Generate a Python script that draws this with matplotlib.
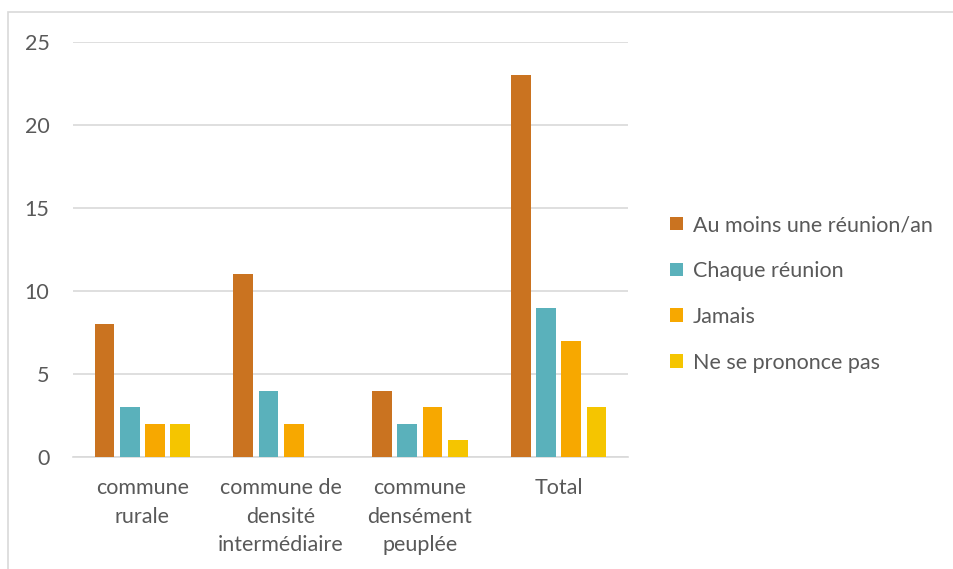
import matplotlib.pyplot as plt
import numpy as np
from matplotlib.patches import Rectangle

categories = ["commune\nrurale", "commune de\ndensité\nintermédiaire",
              "commune\ndensément\npeuplée", "Total"]
series_names = ["Au moins une réunion/an", "Chaque réunion", "Jamais", "Ne se prononce pas"]
au_moins = [8, 11, 4, 23]
chaque = [3, 4, 2, 9]
jamais = [2, 2, 3, 7]
ne_se_prononce = [2, 0, 1, 3]
colors = ["#CA7320", "#5AB1BB", "#F7A800", "#F5C500"]
y_ticks = [0, 5, 10, 15, 20, 25]

plt.rcParams['font.family'] = ['Lato', 'DejaVu Sans']
text_color = "#595959"
grid_color = "#D9D9D9"
fs = 15.5

fig = plt.figure(figsize=(9.54, 5.69), dpi=100)
ax = fig.add_axes([73 / 954, 1 - 457 / 569, 555 / 954, 415 / 569])

x = np.arange(len(categories))
step = 0.182
width = 0.144
series = [au_moins, chaque, jamais, ne_se_prononce]
for i, vals in enumerate(series):
    ax.bar(x + (i - 1.5) * step, vals, width, color=colors[i], label=series_names[i], zorder=3)

ax.set_xlim(-0.5, len(categories) - 0.5)
ax.set_ylim(0, 25)
ax.set_yticks(y_ticks)
ax.set_xticks(x)
ax.set_xticklabels(categories, linespacing=1.55)
ax.tick_params(axis='both', length=0, colors=text_color, labelsize=fs)
ax.tick_params(axis='y', pad=17)
ax.tick_params(axis='x', pad=15)
ax.grid(axis='y', color=grid_color, linewidth=1.2, zorder=0)
for s in ["top", "right", "left"]:
    ax.spines[s].set_visible(False)
ax.spines["bottom"].set_color(grid_color)
ax.spines["bottom"].set_linewidth(1.2)

leg = fig.legend(loc="center left", bbox_to_anchor=(651 / 954, 1 - 294 / 569),
                 frameon=False, fontsize=fs, handlelength=0.6, handleheight=0.6,
                 handletextpad=0.45, labelspacing=1.2)
for t in leg.get_texts():
    t.set_color(text_color)

# outer chart border
fig.patches.append(Rectangle((8 / 954, -0.1), 1.2, 1 - 12 / 569 + 0.1,
                             transform=fig.transFigure, fill=False,
                             edgecolor=grid_color, linewidth=1.2))

fig.savefig("out.png", dpi=100)
